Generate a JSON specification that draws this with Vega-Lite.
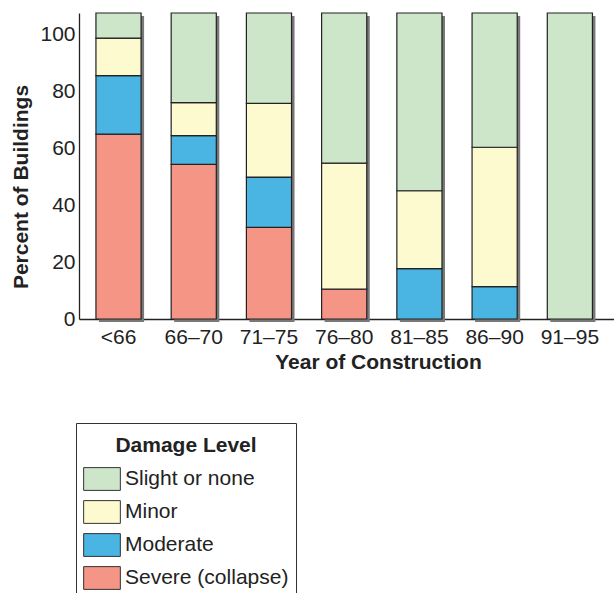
{
  "$schema": "https://vega.github.io/schema/vega-lite/v6.json",
  "width": 535,
  "height": 306,
  "autosize": {"type": "none"},
  "padding": {"left": 79, "top": 13, "right": 0, "bottom": 274},
  "background": "white",
  "config": {
    "view": {"stroke": null},
    "font": "Liberation Sans",
    "axis": {"labelColor": "#222", "titleColor": "#222", "domainColor": "#222", "domainWidth": 1.3, "grid": false},
    "axisY": {
      "title": "Percent of Buildings",
      "ticks": false,
      "labelFontSize": 21,
      "labelPadding": 4,
      "titleFontSize": 21,
      "titleFontWeight": "bold",
      "titlePadding": 8,
      "titleY": 173.5
    }
  },
  "data": {
    "values": [
      {"year": "<66", "level": "Severe (collapse)", "rank": 1, "value": 65.0},
      {"year": "<66", "level": "Moderate", "rank": 2, "value": 20.6},
      {"year": "<66", "level": "Minor", "rank": 3, "value": 13.2},
      {"year": "<66", "level": "Slight or none", "rank": 4, "value": 8.8},
      {"year": "66–70", "level": "Severe (collapse)", "rank": 1, "value": 54.4},
      {"year": "66–70", "level": "Moderate", "rank": 2, "value": 10.1},
      {"year": "66–70", "level": "Minor", "rank": 3, "value": 11.6},
      {"year": "66–70", "level": "Slight or none", "rank": 4, "value": 31.5},
      {"year": "71–75", "level": "Severe (collapse)", "rank": 1, "value": 32.2},
      {"year": "71–75", "level": "Moderate", "rank": 2, "value": 17.7},
      {"year": "71–75", "level": "Minor", "rank": 3, "value": 25.9},
      {"year": "71–75", "level": "Slight or none", "rank": 4, "value": 31.8},
      {"year": "76–80", "level": "Severe (collapse)", "rank": 1, "value": 10.5},
      {"year": "76–80", "level": "Minor", "rank": 3, "value": 44.3},
      {"year": "76–80", "level": "Slight or none", "rank": 4, "value": 52.8},
      {"year": "81–85", "level": "Moderate", "rank": 2, "value": 17.7},
      {"year": "81–85", "level": "Minor", "rank": 3, "value": 27.4},
      {"year": "81–85", "level": "Slight or none", "rank": 4, "value": 62.5},
      {"year": "86–90", "level": "Moderate", "rank": 2, "value": 11.4},
      {"year": "86–90", "level": "Minor", "rank": 3, "value": 49.0},
      {"year": "86–90", "level": "Slight or none", "rank": 4, "value": 47.2},
      {"year": "91–95", "level": "Slight or none", "rank": 4, "value": 107.6}
    ]
  },
  "encoding": {
    "x": {
      "field": "year",
      "type": "nominal",
      "sort": ["<66", "66–70", "71–75", "76–80", "81–85", "86–90", "91–95"],
      "scale": {"paddingInner": 0.4, "paddingOuter": 0.256, "align": 0.44},
      "axis": {
        "title": "Year of Construction",
        "labelAngle": 0,
        "labelFontSize": 21,
        "labelPadding": 7,
        "ticks": false,
        "titleFontSize": 21,
        "titleFontWeight": "bold",
        "titlePadding": 4,
        "titleX": 299
      }
    }
  },
  "layer": [
    {
      "transform": [{"aggregate": [{"op": "sum", "field": "value", "as": "total"}], "groupby": ["year"]}],
      "mark": {"type": "bar", "color": "#787878", "xOffset": 3, "yOffset": 3},
      "encoding": {
        "y": {"field": "total", "type": "quantitative", "scale": {"domain": [0, 107.6], "nice": false},
              "axis": {"title": "Percent of Buildings", "values": [0, 20, 40, 60, 80, 100]}}
      }
    },
    {
      "mark": {"type": "bar", "stroke": "#222", "strokeWidth": 1.2, "opacity": 1},
      "encoding": {
        "y": {
          "field": "value",
          "type": "quantitative",
          "stack": "zero",
          "scale": {"domain": [0, 107.6], "nice": false},
          "axis": {"title": "Percent of Buildings", "values": [0, 20, 40, 60, 80, 100]}
        },
        "order": {"field": "rank", "type": "quantitative"},
        "color": {
          "field": "level",
          "type": "nominal",
          "scale": {
            "domain": ["Slight or none", "Minor", "Moderate", "Severe (collapse)"],
            "range": ["#cde6ca", "#fefacf", "#4ab5e2", "#f59586"]
          },
          "legend": {
            "orient": "none",
            "legendX": -3,
            "legendY": 410,
            "title": "Damage Level",
            "titleFontSize": 21,
            "titleFontWeight": "bold",
            "titleColor": "#222",
            "titleAnchor": "middle",
            "titleBaseline": "line-top",
            "titleLineHeight": 32,
            "titlePadding": 9,
            "labelFontSize": 21,
            "labelColor": "#222",
            "labelOffset": 4,
            "labelLimit": 400,
            "symbolType": "M-1,-0.62H1V0.62H-1Z",
            "symbolSize": 1347,
            "symbolStrokeColor": "#333",
            "symbolStrokeWidth": 1,
            "symbolOpacity": 1,
            "rowPadding": 0,
            "padding": 7,
            "strokeColor": "#333",
            "fillColor": "white"
          }
        }
      }
    }
  ]
}
